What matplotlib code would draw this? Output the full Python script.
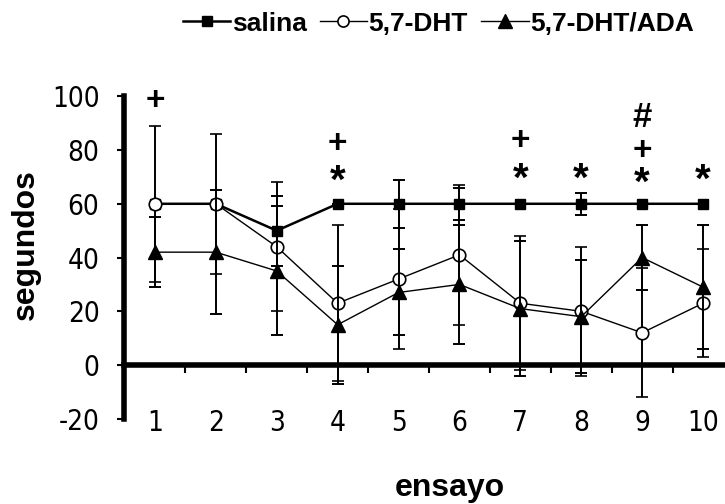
import numpy as np
import matplotlib
matplotlib.use("Agg")
import matplotlib.pyplot as plt
from matplotlib.lines import Line2D
from matplotlib.ticker import FixedLocator

plt.rcParams["axes.unicode_minus"] = False

# data
ensayo = [1, 2, 3, 4, 5, 6, 7, 8, 9, 10]
salina = [60, 60, 50, 60, 60, 60, 60, 60, 60, 60]
salina_err = [0, 0, 13, 0, 9, 6, 0, 4, 0, 0]
dht = [60, 60, 44, 23, 32, 41, 23, 20, 12, 23]
dht_err = [29, 26, 24, 29, 26, 26, 25, 24, 24, 20]
dht_ada = [42, 42, 35, 15, 27, 30, 21, 18, 40, 29]
dht_ada_err = [13, 23, 24, 22, 16, 22, 25, 21, 12, 23]

# significance marks: (ensayo, symbol, height)
marcas = [(1, "+", 98), (4, "+", 82), (4, "*", 68), (7, "+", 83), (7, "*", 69),
          (8, "*", 69), (9, "#", 92), (9, "+", 79.5), (9, "*", 67.5), (10, "*", 68.5)]

fig = plt.figure(figsize=(7.25, 5.04), dpi=100)
ax = fig.add_axes([0.1717, 0.169, 0.84, 0.640])

tick_font = {"family": "DejaVu Sans", "stretch": "condensed", "size": 20}
bold_fam = ["Liberation Sans", "DejaVu Sans"]

eb = dict(ecolor="black", elinewidth=1.4, capsize=4, capthick=1.4)
ax.errorbar(ensayo, salina, yerr=salina_err, color="black", lw=1.8, marker="s",
            ms=7.5, mfc="black", mec="black", zorder=3, **eb)
ax.errorbar(ensayo, dht, yerr=dht_err, color="black", lw=1.0, marker="o",
            ms=9, mfc="white", mec="black", mew=1.2, zorder=4, **eb)
ax.errorbar(ensayo, dht_ada, yerr=dht_ada_err, color="black", lw=1.0, marker="^",
            ms=9.5, mfc="black", mec="black", zorder=5, **eb)

ax.set_xlim(0.5, 10.5)
ax.set_ylim(-20, 100)

# thick y axis at the left, thick x axis at y = 0
ax.spines["top"].set_visible(False)
ax.spines["right"].set_visible(False)
ax.spines["left"].set_linewidth(4)
ax.spines["bottom"].set_position(("data", 0))
ax.spines["bottom"].set_linewidth(4)
ax.spines["bottom"].set_zorder(2)

ax.set_yticks(np.arange(-20, 101, 20))
ax.tick_params(axis="y", direction="out", length=5, width=1.5, pad=13)
for lbl in ax.get_yticklabels():
    lbl.set_fontfamily(tick_font["family"])
    lbl.set_fontstretch(tick_font["stretch"])
    lbl.set_fontsize(tick_font["size"])

ax.set_xticks([])
ax.xaxis.set_minor_locator(FixedLocator(np.arange(1.5, 10.5, 1)))
ax.tick_params(axis="x", which="minor", direction="out", length=6, width=1.5)

for x in ensayo:
    ax.text(x, -21.5, str(x), ha="center", va="center", clip_on=False, **tick_font)

sizes = {"+": 24, "*": 29, "#": 25}
for x, s, y in marcas:
    ax.text(x, y, s, ha="center", va="center", fontsize=sizes[s],
            family=bold_fam, weight="bold")

fig.text(0.036, 0.514, "segundos", rotation=90, ha="center", va="center",
         fontsize=23, family=bold_fam, weight="bold")
fig.text(0.62, 0.032, "ensayo", ha="center", va="center", fontsize=23,
         family=bold_fam, weight="bold")

handles = [
    Line2D([], [], color="black", lw=1.8, marker="s", ms=7.5),
    Line2D([], [], color="black", lw=1.0, marker="o", ms=8, mfc="white", mew=1.2),
    Line2D([], [], color="black", lw=1.0, marker="^", ms=9.5),
]
fig.legend(handles, ["salina", "5,7-DHT", "5,7-DHT/ADA"], loc="center right",
           bbox_to_anchor=(0.975, 0.953), ncol=3, frameon=False,
           handlelength=1.8, handletextpad=0.05, columnspacing=0.5,
           borderpad=0, prop={"family": bold_fam, "weight": "bold", "size": 19})

fig.savefig("out.png", dpi=100)
